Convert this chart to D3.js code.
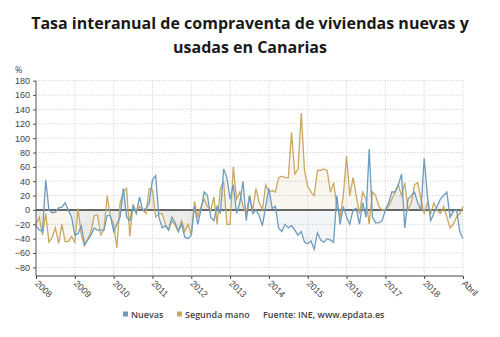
<!DOCTYPE html>
<html lang="es">
<head>
<meta charset="utf-8">
<title>Compraventa de viviendas en Canarias</title>
<script src="https://d3js.org/d3.v7.min.js"></script>
<style>
    body { margin: 0; background: #fff; }
    svg { font-family: "Open Sans", sans-serif; }
    .title { font-size: 16px; font-weight: 700; fill: #1a1a1a; }
    .tick-label { font-size: 9px; fill: #444; }
    .legend { font-size: 9px; font-weight: 600; fill: #444; }
    .grid line { stroke: #d8d8d8; stroke-dasharray: 1.5 1.5; }
</style>
</head>
<body>
<script>
// Monthly year-on-year change (%), one point per month, oldest first
var nuevas = [
    -22, -28, -30, 42, 0, -4, -3, 3, 4, 10, 0, -10,
    -35, -33, -22, -48, -42, -35, -25, -28, -28, -28, -8, -8,
    -30, -20, -10, 30, -10, -15, 5, -5, 18, 0, 2, 10,
    42, 48, -10, -25, -22, -28, -10, -18, -30, -20, -38, -40,
    -35, 5, -20, 0, 25, 20, -10, -15, 5, -5, 57, 45,
    15, 35, -5, 10, 40, -15, 20, -5, 0, -8, -22, 5,
    30, 2, 5, -25, -30, -20, -25, -22, -28, -35, -30, -45,
    -47, -43, -55, -32, -42, -45, -40, -42, -45, 20, -20, 5,
    -10, -20, 0, 2, -20, 10, -10, 85, -10, -18, -18, -15,
    0, 10, 25, 25, 35, 50, -25, 15, 20, 25, 10, 0,
    72, 20, -15, -5, 5, 15, 20, 25, -10, -2, 0, -30,
    -40
];

var segundaMano = [
    -20, -10, -35, -5, -45, -38, -25, -47, -20, -44, -44, -37,
    -45, 2, -35, -50, -40, -30, -8, -7, -35, -28, 20, -10,
    -20, -53, 10, 25, 30, -37, 8, -3, 5, 0, -5, 30,
    28, -10, -5, -5, -20, -28, -15, -22, -30, -15, -30, -20,
    -35, 12, -10, 5, 15, 5, 0, 18, -20, 30, 40, -20,
    -20, 60, 15, 25, 5, -5, 20, 0, 30, 10, 0, 35,
    25, 27, 25, 45, 47, 45, 45, 108, 50, 57, 135, 55,
    33, 25, 20, 55, 55, 57, 55, 25, 38, 5, -10, 20,
    75, 20, 45, 20, -5, 25, 15, -20, 25, 20, 5, 0,
    0, 5, 15, 25, 35, 20, 38, 0, 10, 35, 38, 15,
    -5, 10, -5, 10, 0, -5, 5, -10, -25, -20, -10, -5,
    5
];

var axisLabels = ["2008", "2009", "2010", "2011", "2012", "2013", "2014",
                  "2015", "2016", "2017", "2018", "Abril"];
var yTicks = [-80, -60, -40, -20, 0, 20, 40, 60, 80, 100, 120, 140, 160, 180];

var width = 500, height = 337;
var blue = "#6f9cbd", gold = "#c9a862";

var svg = d3.select("body").append("svg")
    .attr("width", width)
    .attr("height", height);

// Title
svg.append("text").attr("class", "title")
    .attr("x", 250).attr("y", 29).attr("text-anchor", "middle")
    .text("Tasa interanual de compraventa de viviendas nuevas y");
svg.append("text").attr("class", "title")
    .attr("x", 250).attr("y", 53).attr("text-anchor", "middle")
    .text("usadas en Canarias");

var x = d3.scaleLinear().domain([0, nuevas.length - 1]).range([36, 463]);
var y = d3.scaleLinear().domain([-92, 180]).range([276, 80.7]);

var tickIdx = axisLabels.map(function(d, i) { return i * 12; });

// Gridlines
svg.append("g").attr("class", "grid")
    .selectAll("line.h").data(yTicks).enter().append("line")
    .attr("x1", 36).attr("x2", 463)
    .attr("y1", function(d) { return y(d); })
    .attr("y2", function(d) { return y(d); });
svg.append("g").attr("class", "grid")
    .selectAll("line.v").data(tickIdx.slice(1)).enter().append("line")
    .attr("x1", function(d) { return x(d); })
    .attr("x2", function(d) { return x(d); })
    .attr("y1", y(180)).attr("y2", 276);

// Soft fill between each series and zero
function area(data) {
    return d3.area()
        .x(function(d, i) { return x(i); })
        .y0(y(0))
        .y1(function(d) { return y(d); })(data);
}
svg.append("path").attr("d", area(segundaMano))
    .attr("fill", gold).attr("fill-opacity", 0.1);
svg.append("path").attr("d", area(nuevas))
    .attr("fill", blue).attr("fill-opacity", 0.09);

// Zero line
svg.append("line")
    .attr("x1", 36).attr("x2", 463)
    .attr("y1", y(0)).attr("y2", y(0))
    .attr("stroke", "#666").attr("stroke-width", 2);

var line = d3.line()
    .x(function(d, i) { return x(i); })
    .y(function(d) { return y(d); });

svg.append("path").attr("d", line(segundaMano))
    .attr("fill", "none").attr("stroke", gold).attr("stroke-width", 1.3);
svg.append("path").attr("d", line(nuevas))
    .attr("fill", "none").attr("stroke", blue).attr("stroke-width", 1.3);

// Y axis
var yAxis = svg.append("g")
    .attr("transform", "translate(36,0)")
    .call(d3.axisLeft(y).tickValues(yTicks).tickSize(3).tickPadding(3));
yAxis.select(".domain").attr("stroke", "#555").attr("d", "M0," + y(180) + "V276");
yAxis.selectAll("line").attr("stroke", "#555");
yAxis.selectAll("text").attr("class", "tick-label").attr("font-family", null).attr("font-size", null);

svg.append("text").attr("class", "tick-label")
    .attr("x", 15).attr("y", 73).text("%");

// X axis with rotated year labels
var xAxis = svg.append("g")
    .attr("transform", "translate(0,276)")
    .call(d3.axisBottom(x).tickValues(tickIdx).tickSize(3)
        .tickFormat(function(d, i) { return axisLabels[i]; }));
xAxis.select(".domain").attr("stroke", "#444").attr("stroke-width", 1.2)
    .attr("d", "M36,0H463");
xAxis.selectAll("line").attr("stroke", "#444");
xAxis.selectAll("text")
    .attr("class", "tick-label").attr("font-family", null).attr("font-size", null)
    .attr("text-anchor", "start")
    .attr("dy", null).attr("y", 0)
    .attr("transform", "translate(-2,8) rotate(45)");

// Legend
var legend = svg.append("g").attr("transform", "translate(0,318)");
legend.append("rect").attr("x", 123).attr("y", -6.5).attr("width", 5).attr("height", 5).attr("fill", blue);
legend.append("text").attr("class", "legend").attr("x", 131).attr("y", 0).text("Nuevas");
legend.append("rect").attr("x", 177).attr("y", -6.5).attr("width", 5).attr("height", 5).attr("fill", gold);
legend.append("text").attr("class", "legend").attr("x", 185).attr("y", 0).text("Segunda mano");
legend.append("text").attr("class", "legend").attr("x", 263).attr("y", 0).text("Fuente: INE, www.epdata.es");
</script>
</body>
</html>
